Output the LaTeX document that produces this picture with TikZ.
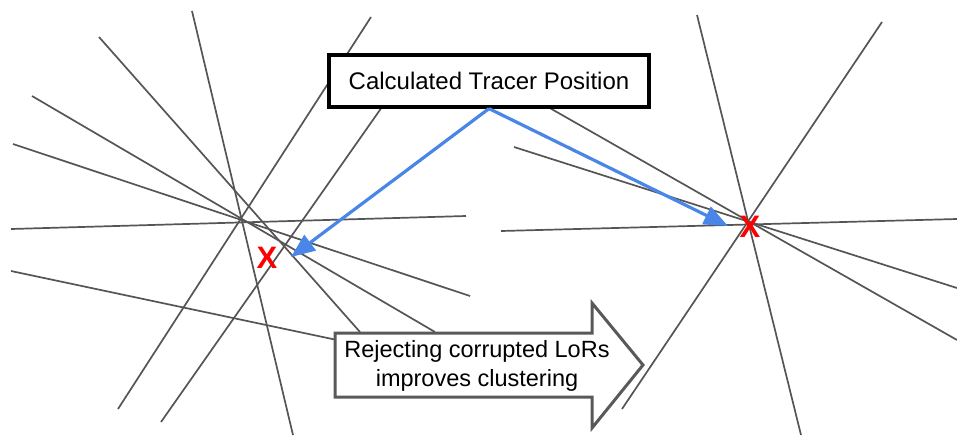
\documentclass[tikz,border=0pt]{standalone}
\usepackage{fontspec}
\setmainfont{Liberation Sans}
\usetikzlibrary{arrows.meta}
\definecolor{lorc}{HTML}{555555}
\definecolor{gblue}{HTML}{4A86E8}
\definecolor{arrowgrey}{HTML}{595959}
\begin{document}
\begin{tikzpicture}[x=1pt,y=-1pt,
  lor/.style={draw=lorc, line width=1.7pt},
  callout/.style={draw=black, line width=3.2pt, fill=white, minimum width=320pt, minimum height=52pt, inner sep=0pt, font=\fontsize{24}{29}\selectfont},
  bigarrow/.style={draw=arrowgrey, line width=3pt, fill=white, line join=miter},
  arrowtext/.style={align=center, inner sep=0pt, font=\fontsize{23.5}{29}\selectfont},
  pointer/.style={draw=gblue, line width=3.2pt, -{Triangle[length=24pt,width=19pt]}},
  cross/.style={text=red, inner sep=0pt, font=\fontsize{31}{31}\selectfont\bfseries}
]
\useasboundingbox (0,0) rectangle (957,437);
% left cluster of LoRs
\draw[lor] (192,11) -- (293,435);
\draw[lor] (371,17) -- (118,409);
\draw[lor] (99,37) -- (360,332);
\draw[lor] (32,96) -- (435,332);
\draw[lor] (13,144) -- (470,296);
\draw[lor] (11,229) -- (466,216);
\draw[lor] (11,271) -- (337,340);
\draw[lor] (161,422) -- (382,107);
% right cluster of LoRs
\draw[lor] (697,15) -- (801,435);
\draw[lor] (882,22) -- (622,409);
\draw[lor] (548,107) -- (957,340);
\draw[lor] (514,147) -- (957,288);
\draw[lor] (501,231) -- (957,219);
% big arrow
\draw[bigarrow] (335,333) -- (592,333) -- (592,303) -- (643,365) -- (592,428) -- (592,397) -- (335,397) -- cycle;
\node[arrowtext] (reject) at (477,366) {Rejecting corrupted LoRs\\improves clustering};
% callout
\node[callout] (calc) at (489,81) {Calculated Tracer Position};
% crosses
\node[cross] (x1) at (267,258) {X};
\node[cross] (x2) at (750,227) {X};
\coordinate (t1) at (291,257);
\coordinate (t2) at (728,226);
\draw[pointer] (calc.south) -- (t1);
\draw[pointer] (calc.south) -- (t2);
\end{tikzpicture}
\end{document}
